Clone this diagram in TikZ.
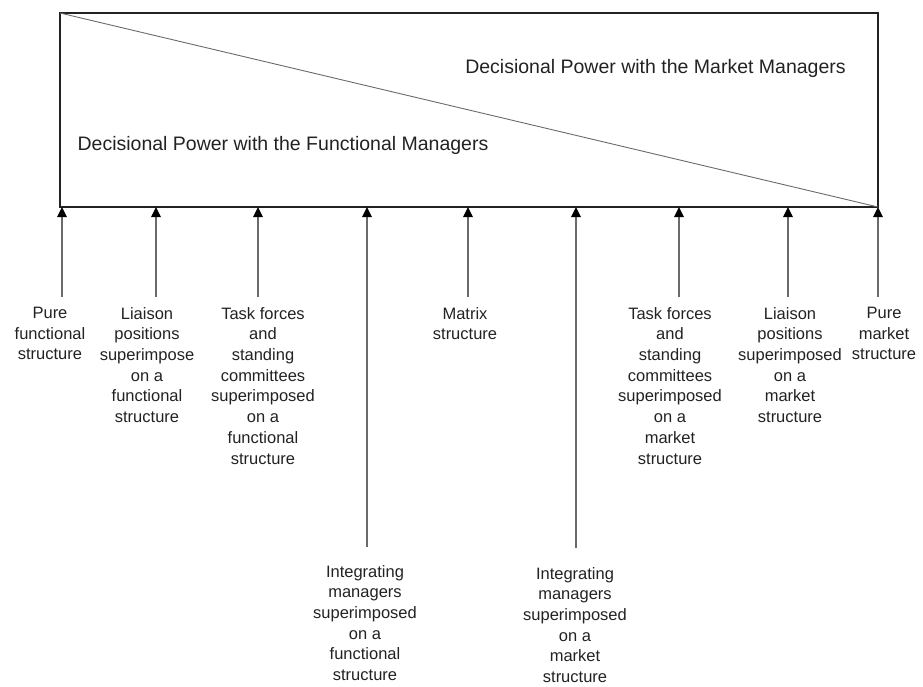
\documentclass[tikz,border=0pt]{standalone}
\usepackage{fontspec}
\setmainfont{Liberation Sans}
\usetikzlibrary{arrows.meta}
\definecolor{ink}{HTML}{222222}
\definecolor{linegray}{HTML}{6A6A6A}
\tikzset{
  boxline/.style={draw=ink, line width=1.6pt},
  diag/.style={draw=linegray, line width=0.9pt},
  upar/.style={draw=linegray, line width=1.1pt, -{Triangle[length=10pt,width=9.5pt,color=black]}},
  lab/.style={align=center, anchor=north, inner sep=0pt, text=ink,
    font=\fontsize{16.5}{20.7}\selectfont},
  ttl/.style={anchor=center, inner sep=0pt, text=ink,
    font=\fontsize{19.5}{23}\selectfont}
}
\begin{document}
\begin{tikzpicture}[x=1pt,y=-1pt]
\useasboundingbox (0,0) rectangle (923,686);
\coordinate (tl) at (60,13);
\coordinate (br) at (878,207);
\draw[boxline] (tl) rectangle (br);
\draw[diag] (tl) -- (br);
\node[ttl] (tmk) at (655.5,68) {Decisional Power with the Market Managers};
\node[ttl] (tfn) at (283,145) {Decisional Power with the Functional Managers};
% arrow tails
\coordinate (a1) at (62,297);
\coordinate (a2) at (156,297);
\coordinate (a3) at (258,297);
\coordinate (a4) at (367,547);
\coordinate (a5) at (468,297);
\coordinate (a6) at (576,548);
\coordinate (a7) at (679,297);
\coordinate (a8) at (788,297);
\coordinate (a9) at (878,297);
\foreach \i in {1,...,9} \draw[upar] (a\i) -- (a\i |- br);
% labels
\node[lab] (l1) at (50,307) {Pure\\functional\\structure};
\node[lab] (l2) at (147,307) {Liaison\\positions\\superimpose\\on a\\functional\\structure};
\node[lab] (l3) at (263,307) {Task forces\\and\\standing\\committees\\superimposed\\on a\\functional\\structure};
\node[lab] (l4) at (365,565) {Integrating\\managers\\superimposed\\on a\\functional\\structure};
\node[lab] (l5) at (465,307) {Matrix\\structure};
\node[lab] (l6) at (575,567) {Integrating\\managers\\superimposed\\on a\\market\\structure};
\node[lab] (l7) at (670,307) {Task forces\\and\\standing\\committees\\superimposed\\on a\\market\\structure};
\node[lab] (l8) at (790,307) {Liaison\\positions\\superimposed\\on a\\market\\structure};
\node[lab] (l9) at (884,307) {Pure\\market\\structure};
\end{tikzpicture}
\end{document}
